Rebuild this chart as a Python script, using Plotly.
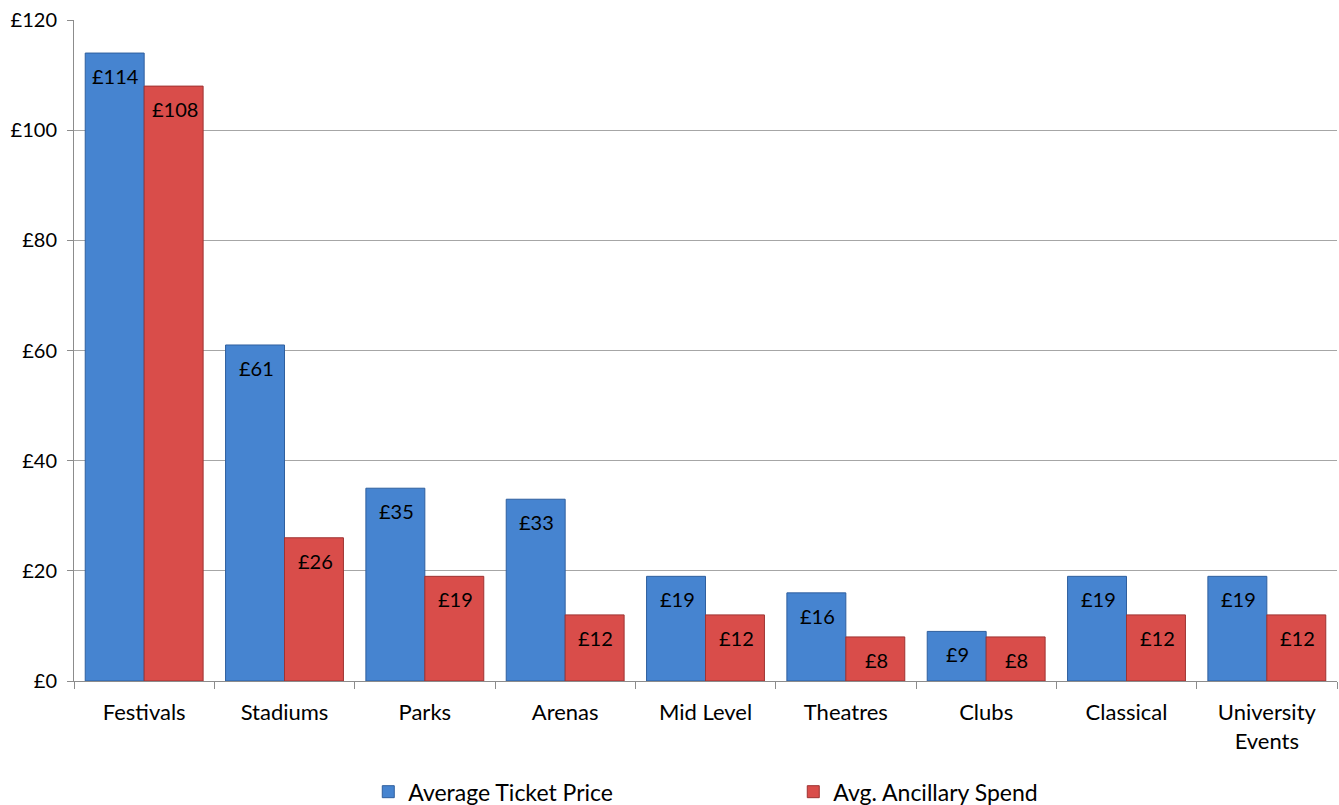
import plotly.graph_objects as go

categories = ["Festivals", "Stadiums", "Parks", "Arenas", "Mid Level",
              "Theatres", "Clubs", "Classical", "University<br>Events"]
ticket_price = [114, 61, 35, 33, 19, 16, 9, 19, 19]
ancillary_spend = [108, 26, 19, 12, 12, 8, 8, 12, 12]
y_ticks = [0, 20, 40, 60, 80, 100, 120]
y_tick_labels = ["£" + str(v) for v in y_ticks]

FONT = "Lato, Calibri, 'Open Sans', sans-serif"
BAR_PX = 59  # width of one bar in pixels (for placing value labels)

fig = go.Figure()
fig.add_trace(go.Bar(
    name="Average Ticket Price", x=categories, y=ticket_price,
    marker=dict(color="#4684D0", line=dict(color="#2F5F9E", width=1)),
))
fig.add_trace(go.Bar(
    name="Avg. Ancillary Spend", x=categories, y=ancillary_spend,
    marker=dict(color="#D94D4A", line=dict(color="#9E3332", width=1)),
))

# value labels just inside the top of each bar
for values, shift in ((ticket_price, -BAR_PX / 2), (ancillary_spend, BAR_PX / 2)):
    for cat, v in zip(categories, values):
        fig.add_annotation(
            x=cat, y=v, text="£" + str(v), showarrow=False,
            xshift=shift + 1, yshift=-9, yanchor="top",
            font=dict(size=20, family=FONT, color="#000000"),
        )

fig.update_layout(
    width=1339, height=805,
    margin=dict(l=74, r=2, t=20, b=124, autoexpand=False),
    paper_bgcolor="white", plot_bgcolor="white",
    barmode="group", bargap=0.16, bargroupgap=0,
    font=dict(family=FONT, size=20, color="#000000"),
    legend=dict(
        orientation="h", x=0.233, xanchor="left",
        y=-0.135, yanchor="top",
        font=dict(size=23, family=FONT),
        entrywidth=380, entrywidthmode="pixels",
        traceorder="normal",
    ),
    xaxis=dict(
        type="category", showgrid=False, showline=True,
        linecolor="#8C8C8C", linewidth=1, automargin=False,
        ticks="outside", tickson="boundaries", ticklen=7, tickcolor="#8C8C8C",
        tickfont=dict(size=22, family=FONT), ticklabelstandoff=12,
        fixedrange=True,
    ),
    yaxis=dict(
        range=[0, 120], tickvals=y_ticks, ticktext=y_tick_labels,
        showgrid=True, gridcolor="#A6A6A6", gridwidth=1,
        showline=True, linecolor="#8C8C8C", linewidth=1, automargin=False,
        ticks="outside", ticklen=6, tickcolor="#8C8C8C",
        tickfont=dict(size=20, family=FONT), ticklabelstandoff=6,
        zeroline=False,
    ),
)

fig.write_html("out.html")
